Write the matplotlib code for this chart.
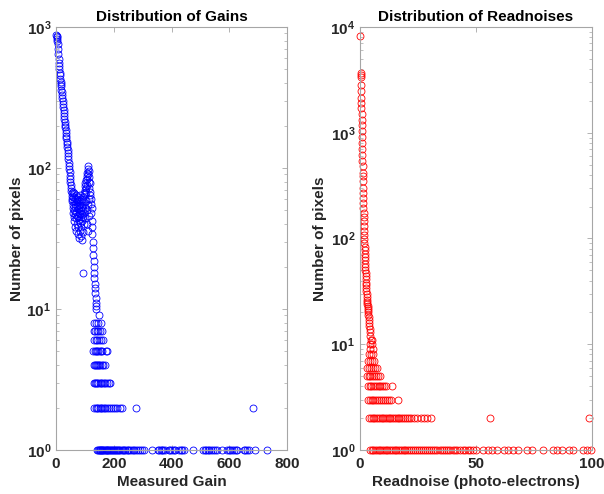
import matplotlib
matplotlib.use("Agg")
import matplotlib.pyplot as plt
from matplotlib.ticker import LogLocator, FuncFormatter, NullFormatter, FixedLocator
import numpy as np

plt.rcParams["font.family"] = ["Liberation Sans", "DejaVu Sans"]
plt.rcParams["mathtext.fontset"] = "custom"
plt.rcParams["mathtext.rm"] = "Liberation Sans"
plt.rcParams["mathtext.bf"] = "Liberation Sans:bold"

# ---------------- Gain histogram (value, count) ----------------
gain_x_head = [1, 2, 3, 4, 5, 6, 7, 8, 9, 10, 11, 12, 13, 14, 15, 16, 17, 18, 19, 20,
               21, 22, 23, 24, 25, 26, 27, 28, 29, 30, 31, 32, 33, 34, 35, 36, 37, 38,
               39, 40, 41, 42, 43, 44, 45, 46, 47, 48, 49, 50, 51, 52, 53, 54, 55, 56, 57]
gain_n_head = [880, 850, 820, 860, 790, 760, 700, 640, 590, 560, 530, 500, 470, 455, 430,
               410, 395, 380, 360, 345, 330, 315, 300, 285, 270, 258, 245, 232, 222, 212,
               203, 195, 186, 178, 170, 162, 154, 147, 140, 134, 127, 121, 115, 109, 103,
               98, 93, 88, 84, 80, 76, 72, 69, 66, 63, 60, 58]

gain_x_mid = [58, 58.5, 59, 60, 60.5, 61, 62, 62.5, 63, 64, 64.5, 65, 66, 66.5, 67, 68,
              68.5, 69, 70, 70.5, 71, 72, 72.5, 73, 74, 74.5, 75, 76, 76.5, 77, 78, 78.5,
              79, 80, 80.5, 81, 82, 82.5, 83, 84, 84.5, 85, 86, 86.5, 87, 88, 88.5, 89,
              90, 90.5, 91, 92, 92.5, 93, 94, 94.5, 95, 96, 96.5, 97, 98,
              100, 102, 104, 106, 108, 110, 112, 114, 116]
gain_n_mid = [55, 68, 48, 62, 52, 45, 58, 66, 50, 42, 56, 61, 47, 38, 53, 64,
              44, 57, 49, 36, 60, 46, 54, 40, 58, 34, 51, 45, 62, 38, 55, 48,
              32, 43, 59, 52, 36, 47, 64, 41, 55, 33, 50, 45, 58, 38, 53, 31,
              47, 60, 42, 55, 35, 50, 18, 45, 62, 40, 57, 48, 66,
              52, 44, 58, 40, 50, 36, 55, 46, 60]

gain_x_bump = [99, 100, 101, 102, 103, 104, 105, 106, 107, 108, 109, 110, 111, 112, 113,
               114, 115, 116, 117, 118, 119, 120, 121, 122, 123, 124, 125, 126, 127, 128,
               129, 130, 131, 132, 133, 134, 135, 136, 137, 138, 139, 140]
gain_n_bump = [70, 74, 65, 78, 72, 82, 68, 88, 76, 92, 84, 98, 104, 90, 95,
               80, 86, 72, 78, 64, 68, 56, 60, 48, 52, 42, 38, 34, 30, 27,
               24, 22, 20, 18, 16.5, 15, 14, 13, 12, 11, 10.5, 10]

# gains of the sparsely populated bins, grouped by count
gain_at_9 = [149]
gain_at_8 = [133, 140, 147, 155]
gain_at_7 = [130, 136, 141, 146, 152, 158]
gain_at_6 = [132, 137, 143, 150, 156, 162]
gain_at_5 = [129, 134, 138, 142, 147, 151, 156, 160, 172, 178]
gain_at_4 = [130, 134, 137, 141, 145, 149, 153, 158, 163, 170]
gain_at_3 = [131, 135, 139, 143, 147, 151, 155, 160, 165, 170, 176, 182, 187]
gain_at_2 = [133, 137, 142, 147, 151, 156, 160, 165, 170, 176, 182, 190, 198, 205,
             212, 222, 228, 277, 682]
gain_at_1 = [143, 146, 148, 151, 153, 156, 158, 161, 164, 166, 169, 172, 175, 178, 181,
             184, 187, 190, 193, 197, 200, 204, 208, 211, 215, 219, 223, 227, 231, 236,
             240, 245, 249, 254, 259, 265, 270, 276, 283, 290, 297, 305, 332, 353, 358,
             362, 367, 372, 378, 390, 396, 402, 408, 413, 425, 432, 436, 445, 474, 509,
             515, 520, 526, 531, 537, 543, 549, 557, 575, 592, 598, 604, 610, 616, 622,
             627, 650, 656, 662, 667, 689, 731]

# ---------------- Readnoise histogram (value, count) ----------------
noise_x_head = [0.05, 0.25, 0.3, 0.35, 0.4, 0.45, 0.5, 0.55, 0.6, 0.65, 0.7, 0.75, 0.8,
                0.85, 0.9, 0.95, 1.0, 1.05, 1.1, 1.15, 1.2, 1.25, 1.3, 1.35, 1.4, 1.45,
                1.5, 1.55, 1.6, 1.65, 1.7, 1.75, 1.8, 1.85, 1.9, 1.95, 2.0, 2.05, 2.1,
                2.15, 2.2, 2.3, 2.35, 2.4, 2.5, 2.55, 2.6, 2.7, 2.75, 2.8, 2.9, 3.0, 3.05,
                3.1, 3.2, 3.3, 3.35, 3.4, 3.5, 3.6, 3.7, 3.8, 3.9, 4.0, 4.1, 4.3, 4.5,
                4.8, 5.3, 4.2, 5.0]
noise_n_head = [8230, 3700, 3550, 3350, 2800, 2500, 2150, 1900, 1700, 1500, 1320, 1180,
                1030, 920, 800, 700, 620, 540, 480, 420, 390, 350, 300, 270, 240, 215,
                195, 175, 160, 145, 130, 118, 108, 98, 90, 84, 78, 72, 67, 62, 58, 54,
                50, 47, 44, 41, 38, 36, 34, 32, 30, 28, 26, 25, 24, 23, 22, 21, 20, 19,
                18, 17, 16, 15, 14, 13, 12, 11, 11, 10, 10]

noise_at_9 = [4.4, 5.6]
noise_at_8 = [3.8, 4.6, 5.8]
noise_at_7 = [3.6, 4.3, 5.1, 6.2]
noise_at_6 = [3.2, 4.0, 4.8, 5.5, 6.3, 7.2]
noise_at_5 = [3.0, 3.7, 4.5, 5.2, 6.0, 6.8, 7.6, 8.6]
noise_at_4 = [3.4, 4.1, 4.8, 5.6, 6.4, 7.2, 8.0, 8.8, 9.6, 10.5, 11.2, 13.6]
noise_at_3 = [3.6, 4.3, 5.0, 5.8, 6.6, 7.4, 8.2, 9.0, 9.8, 10.6, 11.5, 12.4, 13.3, 16.2]
noise_at_2 = [4.0, 4.7, 5.5, 6.2, 7.0, 7.8, 8.5, 9.3, 10.1, 10.8, 11.6, 12.4, 13.1,
              13.9, 14.7, 15.5, 16.2, 17.0, 17.8, 18.6, 19.4, 20.3, 21.2, 22.1, 23.4,
              24.5, 26.2, 27.5, 29.0, 30.5, 56.0, 98.5]
noise_at_1 = [4.3, 5.0, 5.8, 6.5, 7.3, 8.0, 8.8, 9.5, 10.3, 11.0, 11.8, 12.6, 13.3,
              14.1, 14.9, 15.6, 16.4, 17.2, 18.0, 18.8, 19.6, 20.4, 21.2, 22.0, 22.9,
              23.7, 24.6, 25.4, 26.3, 27.1, 28.0, 28.9, 29.8, 30.7, 31.5, 32.4, 33.4,
              34.3, 35.2, 36.2, 37.1, 38.1, 39.0, 40.0, 41.0, 42.0, 43.1, 44.2, 45.3,
              46.4, 47.6, 48.8, 50.0, 53.0, 55.0, 57.0, 59.0, 62.0, 64.0, 66.0, 68.0,
              72.0, 74.0, 79.0, 83.0, 85.0, 87.0, 90.0, 92.0, 96.0, 98.0, 99.5]


def gather(head_x, head_n, levels):
    xs = list(head_x)
    ns = list(head_n)
    for count, vals in levels:
        xs += vals
        ns += [count] * len(vals)
    return np.array(xs, float), np.array(ns, float)


gx, gn = gather(gain_x_head + gain_x_mid + gain_x_bump,
                gain_n_head + gain_n_mid + gain_n_bump,
                [(9, gain_at_9), (8, gain_at_8), (7, gain_at_7), (6, gain_at_6),
                 (5, gain_at_5), (4, gain_at_4), (3, gain_at_3), (2, gain_at_2),
                 (1, gain_at_1)])
rx, rn = gather(noise_x_head, noise_n_head,
                [(9, noise_at_9), (8, noise_at_8), (7, noise_at_7), (6, noise_at_6),
                 (5, noise_at_5), (4, noise_at_4), (3, noise_at_3), (2, noise_at_2),
                 (1, noise_at_1)])

TXT = "#262626"
EDGE = "#a6a6a6"


def pow_label(v, pos):
    if v <= 0:
        return ""
    e = int(round(np.log10(v)))
    if abs(v - 10.0 ** e) > 1e-6 * v:
        return ""
    return r"$\mathbf{10^{%d}}$" % e


def style(ax, xlabel, title, xlim, xticks, ylim):
    ax.set_yscale("log")
    ax.set_xlim(*xlim)
    ax.set_ylim(*ylim)
    ax.xaxis.set_major_locator(FixedLocator(xticks))
    ax.yaxis.set_major_locator(LogLocator(base=10, numticks=10))
    ax.yaxis.set_minor_locator(LogLocator(base=10, subs=np.arange(2, 10), numticks=20))
    ax.yaxis.set_major_formatter(FuncFormatter(pow_label))
    ax.yaxis.set_minor_formatter(NullFormatter())
    for s in ax.spines.values():
        s.set_color(EDGE)
        s.set_linewidth(0.8)
    ax.tick_params(which="both", direction="in", top=True, right=True,
                   color=EDGE, labelcolor=TXT, labelsize=11)
    ax.tick_params(which="major", length=3.5, width=0.6)
    ax.tick_params(which="minor", length=2, width=0.5)
    ax.tick_params(axis="x", which="major", pad=5)
    for lab in ax.get_xticklabels() + ax.get_yticklabels():
        lab.set_fontweight("bold")
    ax.set_xlabel(xlabel, fontsize=11, fontweight="bold", color=TXT, labelpad=3)
    ax.set_ylabel("Number of pixels", fontsize=11, fontweight="bold", color=TXT, labelpad=2)
    ax.set_title(title, fontsize=11, fontweight="bold", color="black", pad=4)


fig = plt.figure(figsize=(6.04, 4.94), dpi=100)
ax1 = fig.add_axes([56 / 604, 44 / 494, 231 / 604, 423 / 494])
ax2 = fig.add_axes([360 / 604, 44 / 494, 232 / 604, 423 / 494])

ax1.plot(gx, gn, "o", mfc="none", mec=(0, 0, 1), ms=5, mew=0.6, clip_on=False)
ax2.plot(rx, rn, "o", mfc="none", mec=(1, 0, 0), ms=5, mew=0.6, clip_on=False)

style(ax1, "Measured Gain", "Distribution of Gains", (0, 800), [0, 200, 400, 600, 800], (1, 1000))
style(ax2, "Readnoise (photo-electrons)", "Distribution of Readnoises", (0, 100), [0, 50, 100], (1, 10000))

fig.savefig("out.png", dpi=100)
